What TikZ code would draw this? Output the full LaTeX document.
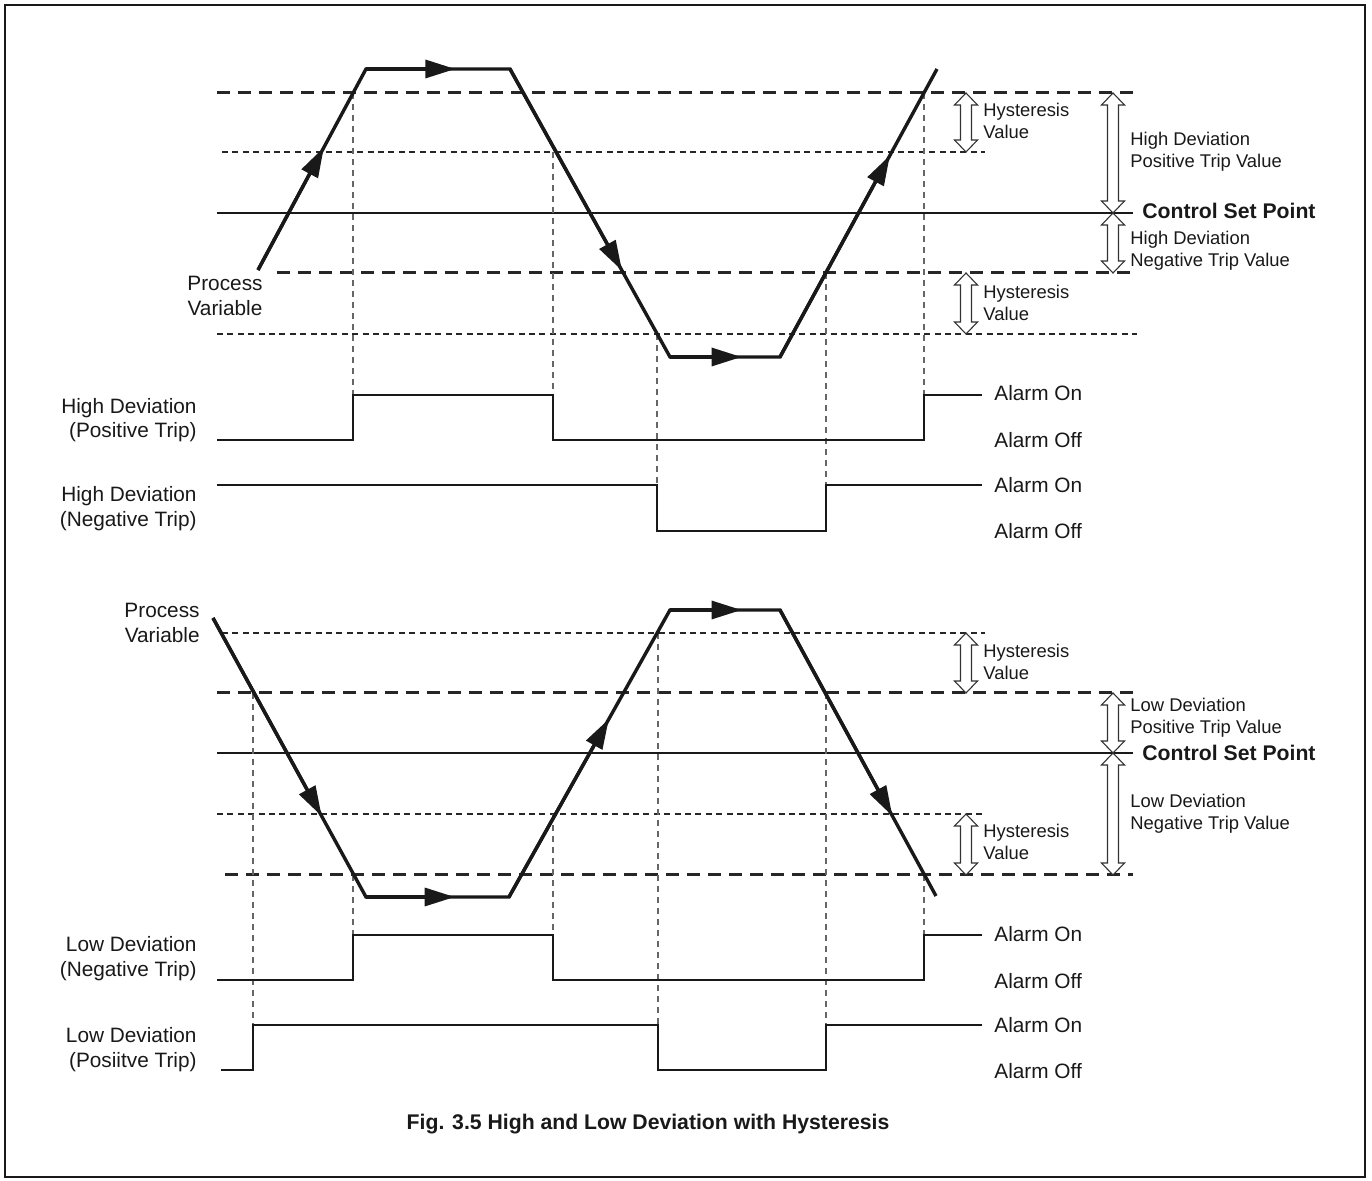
\documentclass[tikz,border=0pt]{standalone}
\usepackage{fontspec}
\setmainfont{Liberation Sans}
\usetikzlibrary{arrows.meta,calc}
\newcommand\hollowarrow[3]{%
  \draw[harrow] (#1-5.5,#2+12) -- (#1-11.5,#2+12) -- (#1,#2) -- (#1+11.5,#2+12) -- (#1+5.5,#2+12)
    -- (#1+5.5,#3-12) -- (#1+11.5,#3-12) -- (#1,#3) -- (#1-11.5,#3-12) -- (#1-5.5,#3-12) -- cycle;}
\begin{document}
\begin{tikzpicture}[x=0.5pt,y=-0.5pt,
 pv/.style={line width=1.7pt, draw=black!90, line join=miter},
 pvarrow/.style={line width=1.7pt, draw=black!90, -{Triangle[length=15pt,width=9pt]}},
 sig/.style={line width=1.1pt, draw=black!90},
 setline/.style={line width=1.35pt, draw=black!90},
 trip/.style={line width=1.5pt, draw=black!85, dash pattern=on 6.5pt off 4pt},
 hyst/.style={line width=0.8pt, draw=black!85, dash pattern=on 3pt off 2.2pt},
 guide/.style={line width=0.55pt, draw=black!60, dash pattern=on 3pt off 2.5pt},
 harrow/.style={line width=0.55pt, draw=black!80, fill=white},
 lbl/.style={inner sep=0pt, font=\fontsize{10.4}{12.2}\selectfont, text=black!90},
 note/.style={inner sep=0pt, font=\fontsize{9.2}{11}\selectfont, text=black!90},
 cspl/.style={inner sep=0pt, font=\fontsize{10.6}{12}\selectfont\bfseries, text=black!90}]
\fill[white] (0,0) rectangle (1372,1181);
\useasboundingbox (0,0) rectangle (1372,1181);
\draw[line width=1.2pt, black!90] (5,5) rectangle (1365,1177);

% ================= TOP: High deviation =================
% reference lines
\draw[trip] (217,93) -- (1135,93);
\draw[hyst] (222,152) -- (985,152);
\draw[setline] (217,213) -- (1133,213);
\draw[trip] (277,273) -- (1135,273);
\draw[hyst] (217,334) -- (1137,334);
% guides
\draw[guide] (353,93) -- (353,395);
\draw[guide] (553,152) -- (553,395);
\draw[guide] (657,334) -- (657,485);
\draw[guide] (826,273) -- (826,485);
\draw[guide] (924,93) -- (924,395);
% process variable
\coordinate (a0) at (258,270);
\coordinate (a1) at (366,69);
\coordinate (a2) at (510,69);
\coordinate (a3) at (670,357);
\coordinate (a4) at (780,357);
\coordinate (a5) at (937,69);
\draw[pv] (a0) -- (a1) -- (a2) -- (a3) -- (a4) -- (a5);
\draw[pvarrow] (a0) -- ($(a0)!0.61!(a1)$);
\draw[pvarrow] (a1) -- ($(a1)!0.62!(a2)$);
\draw[pvarrow] (a2) -- ($(a2)!0.70!(a3)$);
\draw[pvarrow] (a3) -- ($(a3)!0.65!(a4)$);
\draw[pvarrow] (a4) -- ($(a4)!0.70!(a5)$);
\node[lbl, align=center] (pvA) at (225,296) {Process\\Variable};
% signals
\draw[sig] (217,440) -- (353,440) -- (353,395) -- (553,395) -- (553,440) -- (924,440) -- (924,395) -- (982,395);
\draw[sig] (217,485) -- (657,485) -- (657,531) -- (826,531) -- (826,485) -- (982,485);
\node[lbl, align=right, anchor=east] (hdp) at (197,420) {High Deviation\\(Positive Trip)};
\node[lbl, align=right, anchor=east] (hdn) at (197,508.5) {High Deviation\\(Negative Trip)};
\node[lbl, anchor=west] (on1) at (994,393) {Alarm On};
\node[lbl, anchor=west] (off1) at (994,440) {Alarm Off};
\node[lbl, anchor=west] (on2) at (994,485) {Alarm On};
\node[lbl, anchor=west] (off2) at (994,531) {Alarm Off};
% annotations
\hollowarrow{966}{93}{152}
\hollowarrow{966}{273}{334}
\hollowarrow{1113}{93}{213}
\hollowarrow{1113}{213}{273}
\node[note, align=left, anchor=west] (hy1) at (983,121) {Hysteresis\\Value};
\node[note, align=left, anchor=west] (hy2) at (983,302.5) {Hysteresis\\Value};
\node[note, align=left, anchor=west] (hdpv) at (1130,151.5) {High Deviation\\Positive Trip Value};
\node[note, align=left, anchor=west] (hdnv) at (1130,250.5) {High Deviation\\Negative Trip Value};
\node[cspl, anchor=west] (csp1) at (1142,211) {Control Set Point};

% ================= BOTTOM: Low deviation =================
\draw[hyst] (222,633) -- (985,633);
\draw[trip] (217,693) -- (1135,693);
\draw[setline] (217,753) -- (1133,753);
\draw[hyst] (217,814) -- (985,814);
\draw[trip] (225,875) -- (1133,875);
% guides
\draw[guide] (253,693) -- (253,1025);
\draw[guide] (353,875) -- (353,935);
\draw[guide] (553,814) -- (553,935);
\draw[guide] (658,633) -- (658,1025);
\draw[guide] (826,693) -- (826,1025);
\draw[guide] (924,875) -- (924,935);
% process variable
\coordinate (b0) at (213,618);
\coordinate (b1) at (366,897);
\coordinate (b2) at (509,897);
\coordinate (b3) at (670,610);
\coordinate (b4) at (780,610);
\coordinate (b5) at (936,896);
\draw[pv] (b0) -- (b1) -- (b2) -- (b3) -- (b4) -- (b5);
\draw[pvarrow] (b0) -- ($(b0)!0.71!(b1)$);
\draw[pvarrow] (b1) -- ($(b1)!0.62!(b2)$);
\draw[pvarrow] (b2) -- ($(b2)!0.62!(b3)$);
\draw[pvarrow] (b3) -- ($(b3)!0.65!(b4)$);
\draw[pvarrow] (b4) -- ($(b4)!0.72!(b5)$);
\node[lbl, align=right, anchor=east] (pvB) at (200,623) {Process\\Variable};
% signals
\draw[sig] (217,980) -- (353,980) -- (353,935) -- (553,935) -- (553,980) -- (924,980) -- (924,935) -- (982,935);
\draw[sig] (221,1070) -- (253,1070) -- (253,1025) -- (658,1025) -- (658,1070) -- (826,1070) -- (826,1025) -- (982,1025);
\node[lbl, align=right, anchor=east] (ldn) at (197,958.5) {Low Deviation\\(Negative Trip)};
\node[lbl, align=right, anchor=east] (ldp) at (197,1049.5) {Low Deviation\\(Posiitve Trip)};
\node[lbl, anchor=west] (on3) at (994,934) {Alarm On};
\node[lbl, anchor=west] (off3) at (994,981) {Alarm Off};
\node[lbl, anchor=west] (on4) at (994,1025) {Alarm On};
\node[lbl, anchor=west] (off4) at (994,1071) {Alarm Off};
% annotations
\hollowarrow{966}{633}{693}
\hollowarrow{966}{814}{875}
\hollowarrow{1113}{693}{753}
\hollowarrow{1113}{753}{875}
\node[note, align=left, anchor=west] (hy3) at (983,661.5) {Hysteresis\\Value};
\node[note, align=left, anchor=west] (hy4) at (983,842) {Hysteresis\\Value};
\node[note, align=left, anchor=west] (ldpv) at (1130,718) {Low Deviation\\Positive Trip Value};
\node[note, align=left, anchor=west] (ldnv) at (1130,813.5) {Low Deviation\\Negative Trip Value};
\node[cspl, anchor=west] (csp2) at (1142,753) {Control Set Point};

% caption
\node[cspl] (cap) at (648,1124) {Fig. 3.5 High and Low Deviation with Hysteresis};
\end{tikzpicture}
\end{document}
